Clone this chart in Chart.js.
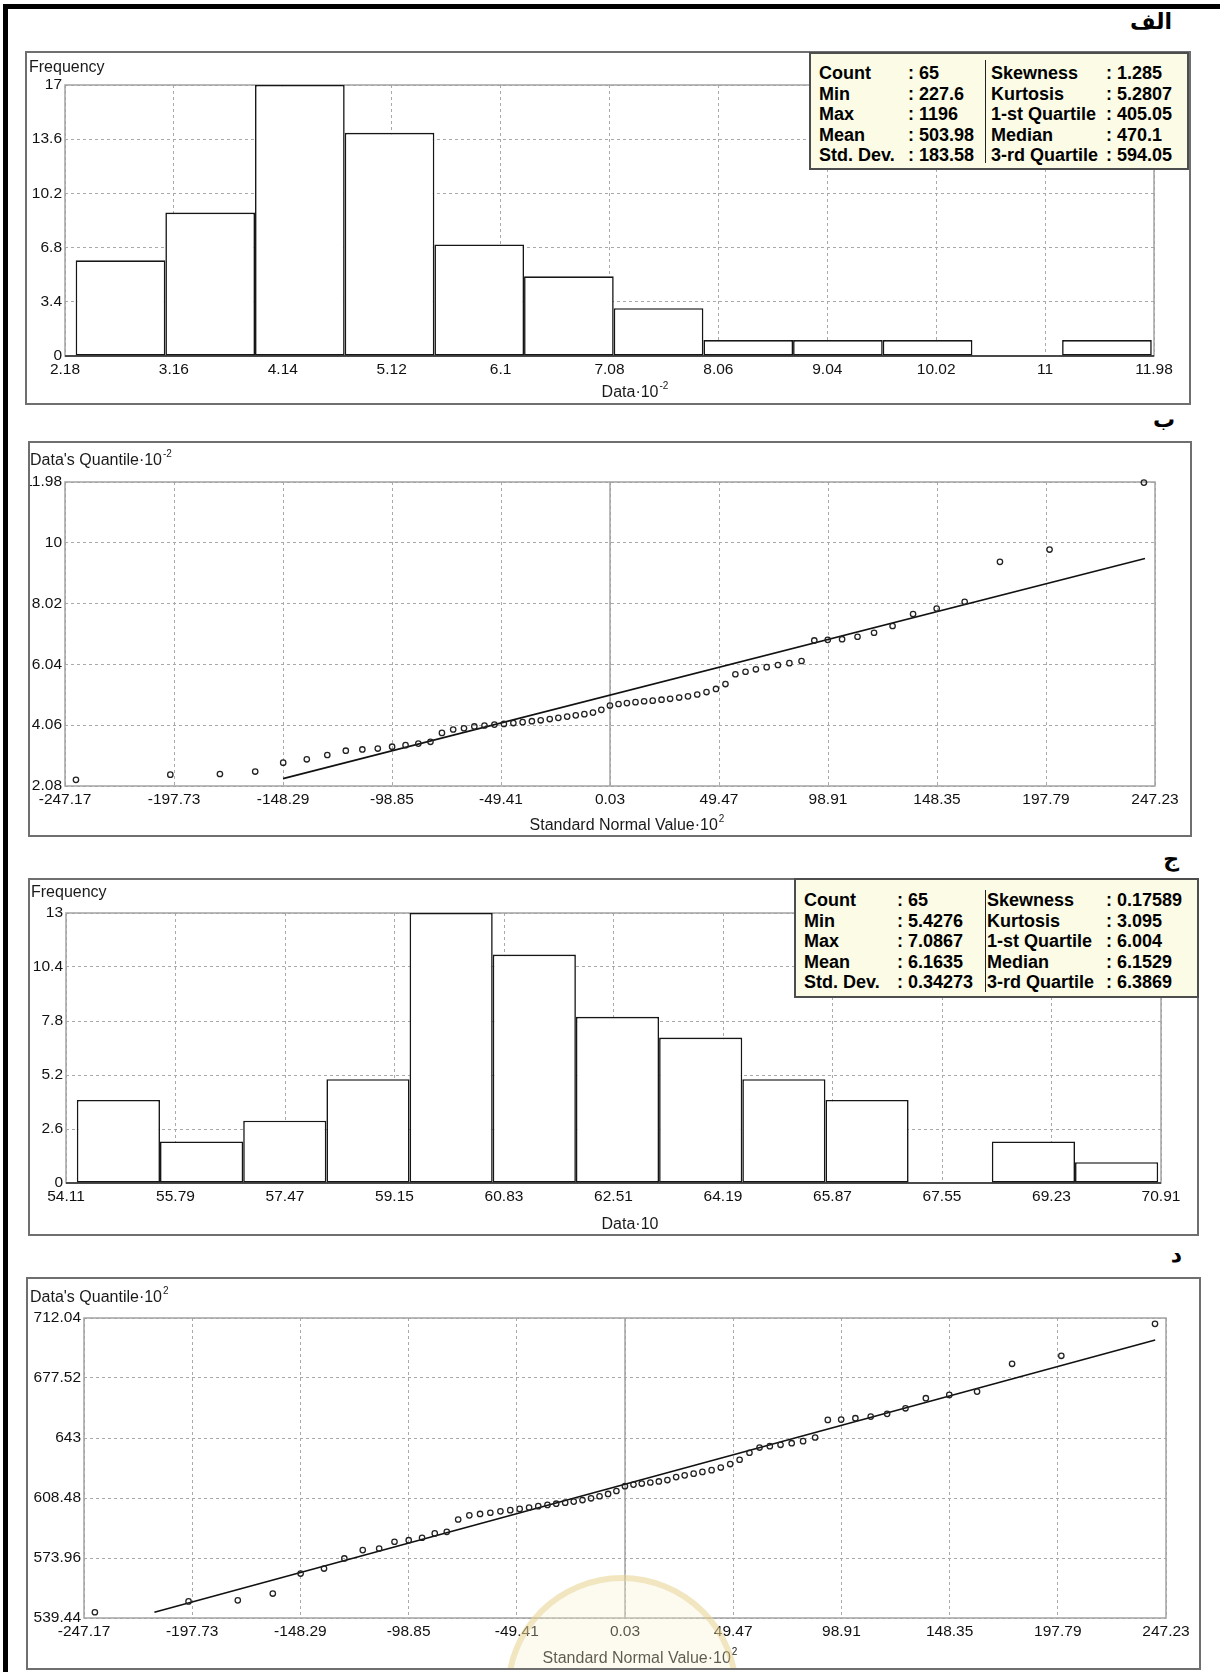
<!DOCTYPE html>
<html lang="fa">
<head>
<meta charset="utf-8">
<title>Histograms and normal probability plots</title>
<script src="https://cdn.jsdelivr.net/npm/chart.js@4.4.1/dist/chart.umd.min.js"></script>
<style>
  html, body { margin: 0; padding: 0; background: #fff; }
  body { position: relative; width: 1220px; height: 1672px; overflow: hidden; font-family: 'Liberation Sans', Arial, sans-serif; }
  .rule { position: absolute; background: #000; }
  .panel { position: absolute; box-sizing: border-box; border: 2px solid #6f6f6f; background: #fff; overflow: hidden; }
  .panel canvas { position: absolute; left: 0; top: 0; }
  .tag { position: absolute; font: bold 22px 'DejaVu Sans', sans-serif; direction: rtl; line-height: 24px; white-space: nowrap; color: #000; }
  .stats { position: absolute; box-sizing: border-box; background: #fcfce6; border: 2px solid #4d4d4d; font: bold 18px 'Liberation Sans', Arial, sans-serif; color: #000; z-index: 2; }
  .stats span { position: absolute; white-space: nowrap; line-height: 20px; }
  .stats .sep { position: absolute; width: 1px; background: #222; }
  .seal { position: absolute; box-sizing: border-box; border-radius: 50%; border: 6px solid rgba(222, 200, 120, 0.4); background: rgba(250, 243, 205, 0.3); z-index: 1; }
</style>
</head>
<body>
<div class="rule" style="left:3px;top:4px;width:1217px;height:5px"></div>
<div class="rule" style="left:3px;top:4px;width:5px;height:1668px"></div>

<script>
const FONT = "'Liberation Sans', Arial, sans-serif";

// ---- histogram of the raw data (Data·10^-2)
const hist1Edges  = [2.276, 3.083, 3.890, 4.697, 5.504, 6.311, 7.118, 7.925, 8.732, 9.539, 10.346, 11.153, 11.96];
const hist1Counts = [6, 9, 17, 14, 7, 5, 3, 1, 1, 1, 0, 1];
const hist1XTicks = [2.18, 3.16, 4.14, 5.12, 6.1, 7.08, 8.06, 9.04, 10.02, 11, 11.98];
const hist1YTicks = [0, 3.4, 6.8, 10.2, 13.6, 17];
const hist1StatsLeft  = ['65', '227.6', '1196', '503.98', '183.58'];
const hist1StatsRight = ['1.285', '5.2807', '405.05', '470.1', '594.05'];

// ---- normal scores (Standard Normal Value·10^2), same for both probability plots
const normalScores = [
  -242.2, -199.4, -176.9, -160.9, -148.2, -137.5, -128.2, -119.8, -112.3, -105.3,
  -98.8, -92.7, -86.9, -81.4, -76.2, -71.1, -66.2, -61.5, -56.9, -52.4,
  -48.1, -43.8, -39.6, -35.4, -31.4, -27.3, -23.4, -19.4, -15.5, -11.6,
  -7.7, -3.9, 0, 3.9, 7.7, 11.6, 15.5, 19.4, 23.4, 27.3,
  31.4, 35.4, 39.6, 43.8, 48.1, 52.4, 56.9, 61.5, 66.2, 71.1,
  76.2, 81.4, 86.9, 92.7, 98.8, 105.3, 112.3, 119.8, 128.2, 137.5,
  148.2, 160.9, 176.9, 199.4, 242.2
];
const qqXTicks = [-247.17, -197.73, -148.29, -98.85, -49.41, 0.03, 49.47, 98.91, 148.35, 197.79, 247.23];

// ---- probability plot of the raw data (Data's Quantile·10^-2)
const qq1Quantiles = [
  2.28, 2.45, 2.47, 2.55, 2.84, 2.95, 3.09, 3.23, 3.27, 3.30,
  3.36, 3.41, 3.46, 3.52, 3.81, 3.92, 3.96, 4.02, 4.05, 4.08,
  4.10, 4.13, 4.16, 4.19, 4.22, 4.26, 4.30, 4.34, 4.38, 4.42,
  4.47, 4.56, 4.70, 4.75, 4.78, 4.81, 4.84, 4.86, 4.89, 4.92,
  4.96, 5.00, 5.06, 5.14, 5.24, 5.40, 5.72, 5.80, 5.88, 5.95,
  6.02, 6.08, 6.15, 6.82, 6.84, 6.86, 6.94, 7.07, 7.29, 7.68,
  7.86, 8.08, 9.38, 9.78, 11.96
];
const qq1FitX = [-148.29, 242.7];
const qq1FitY = [2.32, 9.49];
const qq1YTicks = [2.08, 4.06, 6.04, 8.02, 10, 11.98];

// ---- histogram of the transformed data (Data·10)
const hist2Edges  = [54.276, 55.552, 56.828, 58.105, 59.381, 60.657, 61.933, 63.209, 64.486, 65.762, 67.038, 68.314, 69.591, 70.867];
const hist2Counts = [4, 2, 3, 5, 13, 11, 8, 7, 5, 4, 0, 2, 1];
const hist2XTicks = [54.11, 55.79, 57.47, 59.15, 60.83, 62.51, 64.19, 65.87, 67.55, 69.23, 70.91];
const hist2YTicks = [0, 2.6, 5.2, 7.8, 10.4, 13];
const hist2StatsLeft  = ['65', '5.4276', '7.0867', '6.1635', '0.34273'];
const hist2StatsRight = ['0.17589', '3.095', '6.004', '6.1529', '6.3869'];

// ---- probability plot of the transformed data (Data's Quantile·10^2)
const qq2Quantiles = [
  542.76, 549.0, 549.6, 553.5, 565.0, 567.9, 573.7, 578.5, 579.4, 583.3,
  584.2, 585.6, 588.1, 589.0, 596.1, 598.5, 599.3, 600.0, 600.8, 601.5,
  602.2, 603.0, 603.8, 604.5, 605.2, 605.8, 606.4, 607.3, 608.3, 609.5,
  610.8, 612.5, 615.3, 616.2, 616.8, 617.4, 618.0, 618.8, 620.5, 621.5,
  622.5, 623.5, 624.5, 626.0, 628.0, 630.5, 634.5, 637.5, 638.3, 639.1,
  640.0, 641.2, 643.3, 653.4, 653.6, 654.4, 655.3, 656.9, 660.1, 665.9,
  667.8, 669.7, 685.7, 690.3, 708.67
];
const qq2FitX = [-215.0, 242.3];
const qq2FitY = [542.7, 699.4];
const qq2YTicks = [539.44, 573.96, 608.48, 643, 677.52, 712.04];

const statNamesLeft  = ['Count', 'Min', 'Max', 'Mean', 'Std. Dev.'];
const statNamesRight = ['Skewness', 'Kurtosis', '1-st Quartile', 'Median', '3-rd Quartile'];

// text with an optional small raised exponent
function drawSupText(ctx, base, sup, x, y, centred) {
  ctx.font = '16px ' + FONT;
  const wb = ctx.measureText(base).width;
  ctx.font = '10px ' + FONT;
  const ws = sup ? ctx.measureText(sup).width + 1 : 0;
  const x0 = centred ? x - (wb + ws) / 2 : x;
  ctx.font = '16px ' + FONT;
  ctx.fillText(base, x0, y);
  if (sup) {
    ctx.font = '10px ' + FONT;
    ctx.fillText(sup, x0 + wb + 1, y - 7);
  }
}

// plot frame, centre line and the axis captions
const panelText = {
  id: 'panelText',
  beforeDatasetsDraw(chart, args, o) {
    const { ctx, chartArea: a, scales } = chart;
    ctx.save();
    ctx.strokeStyle = '#a3a3a3';
    ctx.lineWidth = 1.5;
    if (o.solidX !== undefined) {
      const px = scales.x.getPixelForValue(o.solidX);
      ctx.beginPath();
      ctx.moveTo(px, a.top);
      ctx.lineTo(px, a.bottom);
      ctx.stroke();
    }
    ctx.strokeRect(a.left, a.top, a.right - a.left, a.bottom - a.top);
    if (o.baseColor) {
      ctx.strokeStyle = o.baseColor;
      ctx.lineWidth = 2;
      ctx.beginPath();
      ctx.moveTo(a.left, a.bottom);
      ctx.lineTo(a.right, a.bottom);
      ctx.stroke();
    }
    ctx.restore();
  },
  afterDraw(chart, args, o) {
    const ctx = chart.ctx;
    ctx.save();
    ctx.fillStyle = '#1a1a1a';
    ctx.textBaseline = 'middle';
    ctx.textAlign = 'left';
    drawSupText(ctx, o.yTitle[0], o.yTitle[1], o.yAt[0], o.yAt[1], false);
    drawSupText(ctx, o.xTitle[0], o.xTitle[1], o.xAt[0], o.xAt[1], true);
    ctx.restore();
  }
};

function mountPanel(frame, plot) {
  const [fx, fy, fw, fh] = frame;
  const div = document.createElement('div');
  div.className = 'panel';
  Object.assign(div.style, { left: fx + 'px', top: fy + 'px', width: fw + 'px', height: fh + 'px' });
  const canvas = document.createElement('canvas');
  const cw = fw - 4, ch = fh - 4;
  canvas.width = cw;
  canvas.height = ch;
  canvas.style.width = cw + 'px';
  canvas.style.height = ch + 'px';
  div.appendChild(canvas);
  document.body.appendChild(div);
  const ox = fx + 2, oy = fy + 2;
  return {
    div, canvas, cw, ch, ox, oy,
    area: { left: plot[0] - ox, top: plot[1] - oy, right: plot[2] - ox, bottom: plot[3] - oy }
  };
}

function linearAxis(min, max, ticks, pad, fit) {
  return {
    type: 'linear', min, max, offset: false,
    afterBuildTicks: ax => { ax.ticks = ticks.map(v => ({ value: v })); },
    afterFit: fit,
    grid: { color: '#a9a9a9', lineWidth: 1, drawTicks: false, offset: false },
    border: { display: false, dash: [3, 3] },
    ticks: {
      autoSkip: false, maxRotation: 0, padding: pad, color: '#111111',
      font: { family: FONT, size: 15.5 },
      callback: v => String(v)
    }
  };
}

function baseOptions(m, xs, ys, text) {
  return {
    responsive: false,
    animation: false,
    events: [],
    layout: { padding: { left: 0, top: m.area.top, right: m.cw - m.area.right, bottom: 0 } },
    plugins: { legend: { display: false }, tooltip: { enabled: false }, panelText: text },
    scales: {
      x: linearAxis(xs[0], xs[1], xs[2], 4, s => { s.height = m.ch - m.area.bottom; }),
      y: linearAxis(ys[0], ys[1], ys[2], 3, s => { s.width = m.area.left; })
    }
  };
}

function captions(m, yTitle, yAt, xTitle, xAt) {
  return {
    yTitle, xTitle,
    yAt: [yAt[0] - m.ox, yAt[1] - m.oy],
    xAt: [xAt[0] - m.ox, xAt[1] - m.oy]
  };
}

function histogram(m, edges, counts, xTicks, yTicks, text) {
  const bins = counts.map((c, i) => ({ x: (edges[i] + edges[i + 1]) / 2, y: c }));
  text.baseColor = '#4a4a4a';
  new Chart(m.canvas, {
    type: 'bar',
    data: {
      datasets: [{
        data: bins,
        backgroundColor: '#ffffff',
        borderColor: '#161616',
        borderWidth: ctx => (ctx.raw && ctx.raw.y > 0 ? 1.6 : 0),
        borderSkipped: false,
        barPercentage: 1,
        categoryPercentage: 1,
        inflateAmount: 0
      }]
    },
    options: baseOptions(m,
      [xTicks[0], xTicks[xTicks.length - 1], xTicks],
      [yTicks[0], yTicks[yTicks.length - 1], yTicks], text),
    plugins: [panelText]
  });
}

function probabilityPlot(m, scores, quantiles, fitX, fitY, yTicks, text) {
  text.solidX = qqXTicks[5];
  new Chart(m.canvas, {
    type: 'scatter',
    data: {
      datasets: [
        {
          data: scores.map((z, i) => ({ x: z, y: quantiles[i] })),
          pointRadius: 2.7,
          pointBorderWidth: 1.3,
          borderColor: '#222222',
          backgroundColor: 'rgba(0,0,0,0)',
          clip: false
        },
        {
          type: 'line',
          data: fitX.map((x, i) => ({ x, y: fitY[i] })),
          borderColor: '#111111',
          borderWidth: 1.6,
          pointRadius: 0,
          fill: false,
          clip: false
        }
      ]
    },
    options: baseOptions(m,
      [qqXTicks[0], qqXTicks[qqXTicks.length - 1], qqXTicks],
      [yTicks[0], yTicks[yTicks.length - 1], yTicks], text),
    plugins: [panelText]
  });
}

function statsBox(box, cols, sep, firstRow, valuesLeft, valuesRight) {
  const div = document.createElement('div');
  div.className = 'stats';
  Object.assign(div.style, { left: box[0] + 'px', top: box[1] + 'px', width: box[2] + 'px', height: box[3] + 'px' });
  statNamesLeft.forEach((name, i) => {
    const top = firstRow + i * 20.5 - 10;
    [name, ': ' + valuesLeft[i], statNamesRight[i], ': ' + valuesRight[i]].forEach((t, k) => {
      const s = document.createElement('span');
      s.textContent = t;
      s.style.left = cols[k] + 'px';
      s.style.top = top + 'px';
      div.appendChild(s);
    });
  });
  const line = document.createElement('div');
  line.className = 'sep';
  Object.assign(line.style, { left: sep[0] + 'px', top: sep[1] + 'px', height: (sep[2] - sep[1]) + 'px' });
  div.appendChild(line);
  document.body.appendChild(div);
}

function tag(text, right, cy) {
  const d = document.createElement('div');
  d.className = 'tag';
  d.textContent = text;
  d.style.right = (1220 - right) + 'px';
  d.style.top = (cy - 12) + 'px';
  document.body.appendChild(d);
}

// panel الف
const p1 = mountPanel([25, 51, 1166, 354], [65, 85, 1154, 356]);
histogram(p1, hist1Edges, hist1Counts, hist1XTicks, hist1YTicks,
  captions(p1, ['Frequency', ''], [29, 68], ['Data·10', '-2'], [635, 393]));
statsBox([809, 52, 380, 118], [8, 97, 180, 295], [174, 6, 109], 19, hist1StatsLeft, hist1StatsRight);

// panel ب
const p2 = mountPanel([28, 441, 1164, 396], [65, 482, 1155, 786]);
probabilityPlot(p2, normalScores, qq1Quantiles, qq1FitX, qq1FitY, qq1YTicks,
  captions(p2, ["Data's Quantile·10", '-2'], [30, 461], ['Standard Normal Value·10', '2'], [627, 826]));

// panel ج
const p3 = mountPanel([28, 878, 1171, 358], [66, 913, 1161, 1183]);
histogram(p3, hist2Edges, hist2Counts, hist2XTicks, hist2YTicks,
  captions(p3, ['Frequency', ''], [31, 893], ['Data·10', ''], [630, 1225]));
statsBox([794, 878, 405, 120], [8, 101, 191, 310], [189, 10, 112], 20, hist2StatsLeft, hist2StatsRight);

// panel د
const p4 = mountPanel([26, 1277, 1175, 393], [84, 1318, 1166, 1618]);
probabilityPlot(p4, normalScores, qq2Quantiles, qq2FitX, qq2FitY, qq2YTicks,
  captions(p4, ["Data's Quantile·10", '2'], [30, 1298], ['Standard Normal Value·10', '2'], [640, 1659]));

// faint seal stamped over the bottom panel
const seal = document.createElement('div');
seal.className = 'seal';
Object.assign(seal.style, { left: '477px', top: '296px', width: '234px', height: '234px' });
p4.div.appendChild(seal);

tag('الف', 1172, 22);
tag('ب', 1175, 420);
tag('ج', 1179, 859);
tag('د', 1182, 1255);
</script>
</body>
</html>
